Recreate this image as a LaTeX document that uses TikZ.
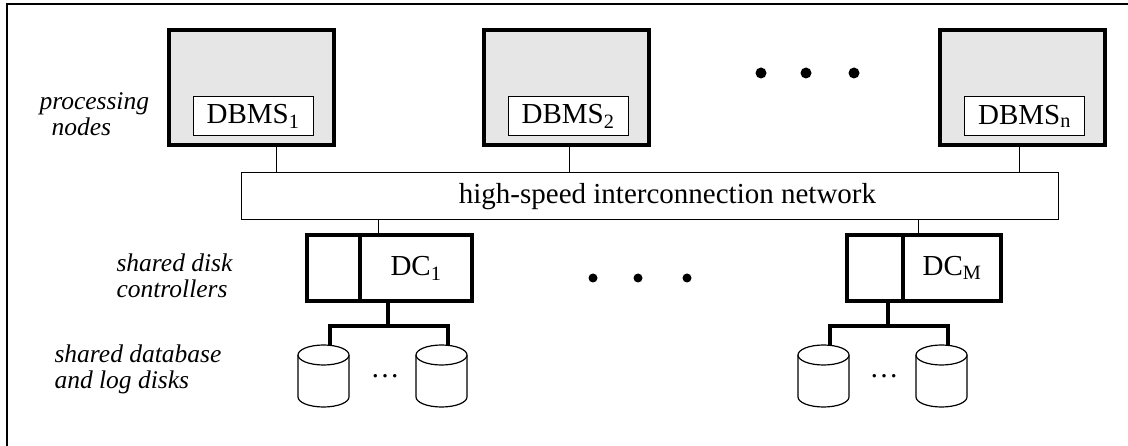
\documentclass[tikz,border=0pt]{standalone}
\usepackage{fontspec}
\setmainfont{Liberation Serif}
\usepackage{tikz}
\usetikzlibrary{calc}
\definecolor{shade}{RGB}{230,230,230}

\begin{document}
\begin{tikzpicture}[x=1pt,y=-1pt,
  font=\fontsize{29}{26}\selectfont,
  proc node/.style={rectangle,draw,line width=4pt,fill=shade,
    minimum width=165pt,minimum height=115pt,inner sep=0pt},
  dbms node/.style={rectangle,draw,fill=white,line width=1pt,
    minimum width=120pt,minimum height=39pt,inner sep=0pt},
  ctrl node/.style={rectangle,draw,line width=3.5pt,minimum height=66pt,inner sep=0pt},
  label node/.style={align=left,anchor=base west,
    font=\fontsize{25.5}{26}\selectfont\itshape},
  link/.style={line width=1pt},
  bus/.style={line width=4pt},
  disk/.pic={
    \draw[line width=1.2pt,fill=white] (-25.5,0) -- (-25.5,42)
      arc[start angle=180,end angle=0,x radius=25.5,y radius=10] -- (25.5,0);
    \draw[line width=1.2pt,fill=white] (0,0) ellipse[x radius=25.5,y radius=10];
    \coordinate (-top) at (6.5,-10);
  }]

  \useasboundingbox (0,0) rectangle (1128,446);
  \draw[line width=1.5pt] (7,446) -- (7,4) -- (1128,4);

  % processing nodes
  \node[proc node] (p1) at (251.5,87.5) {};
  \node[proc node] (p2) at (566.5,87.5) {};
  \node[proc node] (pn) at (1022.5,87.5) {};
  \node[dbms node] (db1) at (253,116.5) {DBMS\textsubscript{1}};
  \node[dbms node] (db2) at (568,116.5) {DBMS\textsubscript{2}};
  \node[dbms node] (dbn) at (1024.5,116.5) {DBMS\textsubscript{n}};
  \foreach \x in {761,806,854}
    \fill (\x,73) circle[radius=5.5];

  \node[rectangle,draw,line width=1pt,minimum width=817pt,minimum height=47pt]
    (net) at (649.5,196.5) {\hspace*{36pt}high-speed interconnection network};

  % disk controllers
  \node[ctrl node,minimum width=53pt] (cl1) at (333.5,268) {};
  \node[ctrl node,minimum width=112pt] (dc1) at (416,268) {DC\textsubscript{1}};
  \node[ctrl node,minimum width=56pt] (clm) at (875,268) {};
  \node[ctrl node,minimum width=98pt] (dcm) at (952,268) {DC\textsubscript{M}};
  \foreach \x in {593,638,687}
    \fill (\x,278) circle[radius=4.5];

  \pic (d11) at (323.5,355) {disk};
  \pic (d12) at (441.5,355) {disk};
  \pic (dm1) at (823.5,355) {disk};
  \pic (dm2) at (941.5,355) {disk};
  \node (dots1) at (385,376) {\dots};
  \node (dotsm) at (884,376) {\dots};

  \coordinate (c1) at ([xshift=24.5pt]p1.south);
  \coordinate (c2) at ([xshift=2.5pt]p2.south);
  \coordinate (cn) at ([xshift=-3.5pt]pn.south);
  \coordinate (k1) at ([xshift=-38pt]dc1.north);
  \coordinate (km) at ([xshift=-34pt]dcm.north);
  \coordinate (s1) at ([xshift=-28pt]dc1.south);
  \coordinate (sm) at ([xshift=13pt]clm.south);
  \coordinate (b1) at (388,326);
  \coordinate (bm) at (888,326);

  \draw[link] (c1) -- (c1 |- net.north);
  \draw[link] (c2) -- (c2 |- net.north);
  \draw[link] (cn) -- (cn |- net.north);
  \draw[link] (k1 |- net.south) -- (k1);
  \draw[link] (km |- net.south) -- (km);

  \draw[bus] (s1) -- (b1);
  \draw[bus] (d11-top) |- (b1) -| (d12-top);
  \draw[bus] (sm) -- (bm);
  \draw[bus] (dm1-top) |- (bm) -| (dm2-top);

  \node[label node] (lproc) at (36,136) {processing\\\hspace*{12pt}nodes};
  \node[label node] (lctrl) at (113,298) {shared disk\\controllers};
  \node[label node] (ldisk) at (51,389) {shared database\\and log disks};
\end{tikzpicture}
\end{document}
